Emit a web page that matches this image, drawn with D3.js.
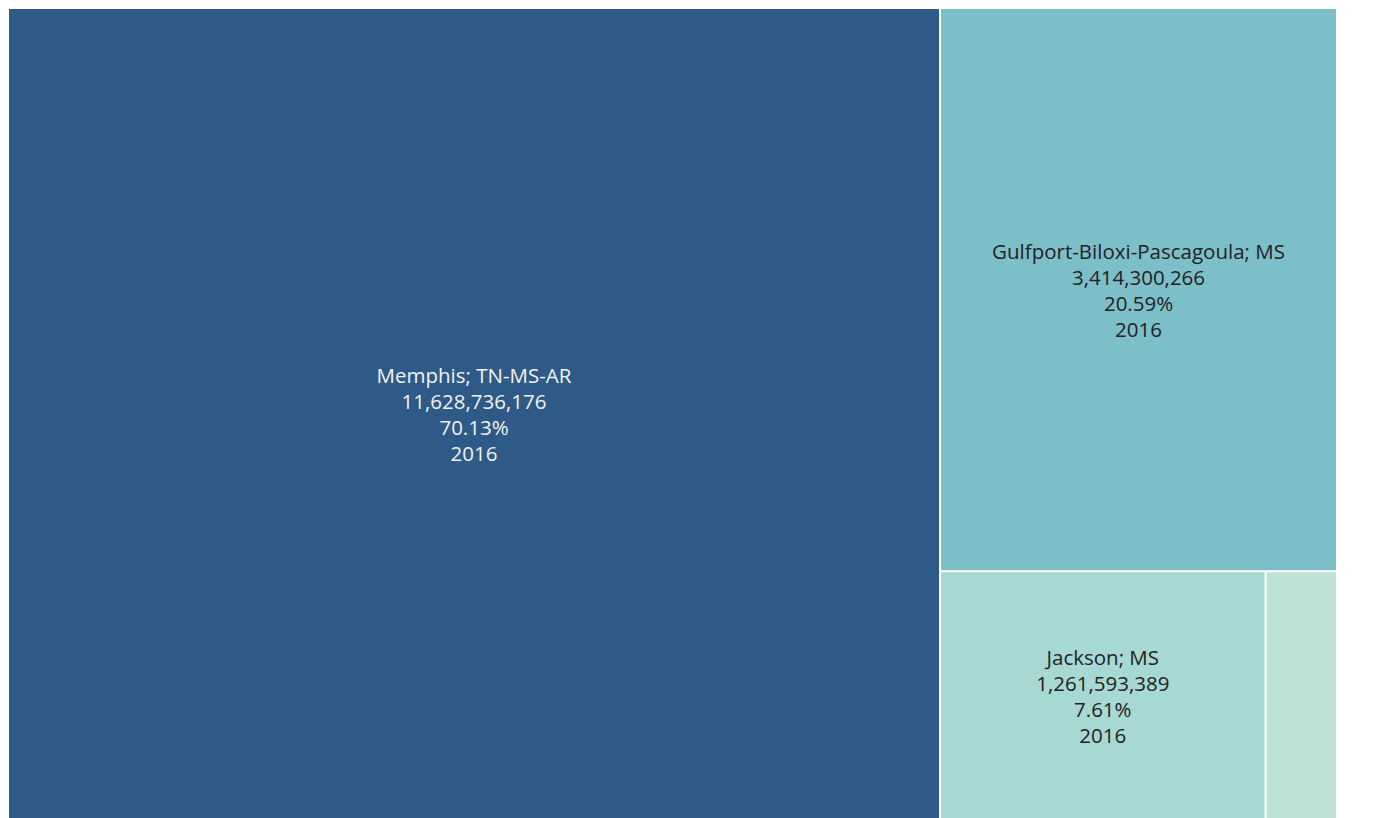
<!DOCTYPE html>
<html><head><meta charset="utf-8">
<script src="https://cdn.jsdelivr.net/npm/d3@7"></script>
<style>html,body{margin:0;background:#fff;overflow:hidden;} svg{display:block;} text{font-family:"Open Sans","Noto Sans",sans-serif;}</style>
</head><body>
<svg id="chart" width="1395" height="818"></svg>
<script>
const names = ["Memphis; TN-MS-AR", "Gulfport-Biloxi-Pascagoula; MS", "Jackson; MS", "Hattiesburg; MS"];
const values = [11628736176, 3414300266, 1261593389, 276900000];
const percents = ["70.13%", "20.59%", "7.61%", "1.67%"];
const years = ["2016", "2016", "2016", "2016"];
const colors = ["#2d5a86", "#7dbfc9", "#a7d9d4", "#bde3d7"];
const textColors = ["#f2f2f2", "#222", "#222", "#222"];
const showLabel = [true, true, true, false];

const svg = d3.select("#chart");
const data = names.map((n, i) => ({name: n, value: values[i], pct: percents[i], year: years[i], i}));
const root = d3.hierarchy({children: data}).sum(d => d.value || 0);
d3.treemap().tile(d3.treemapSquarify).size([1327, 815]).paddingInner(2)(root);

const fmt = d3.format(",");
const plot = svg.append("g").attr("transform", "translate(9,9)");
const g = plot.selectAll("g.cell").data(root.leaves()).join("g").attr("class", "cell");
g.append("rect")
  .attr("x", d => d.x0).attr("y", d => d.y0)
  .attr("width", d => d.x1 - d.x0).attr("height", d => d.y1 - d.y0)
  .attr("fill", d => colors[d.data.i]);

const lh = 26;
g.filter(d => showLabel[d.data.i]).each(function(d) {
  const lines = [d.data.name, fmt(d.data.value), d.data.pct, d.data.year];
  const cx = (d.x0 + d.x1) / 2, cy = (d.y0 + Math.min(d.y1, 809)) / 2;
  const t = d3.select(this).append("text")
    .attr("text-anchor", "middle")
    .attr("fill", textColors[d.data.i])
    .style("font-size", "20.5px");
  lines.forEach((l, k) => {
    t.append("tspan").attr("x", cx).attr("y", cy + (k - 1.5) * lh + 8.5).text(l);
  });
});
</script>
</body></html>
